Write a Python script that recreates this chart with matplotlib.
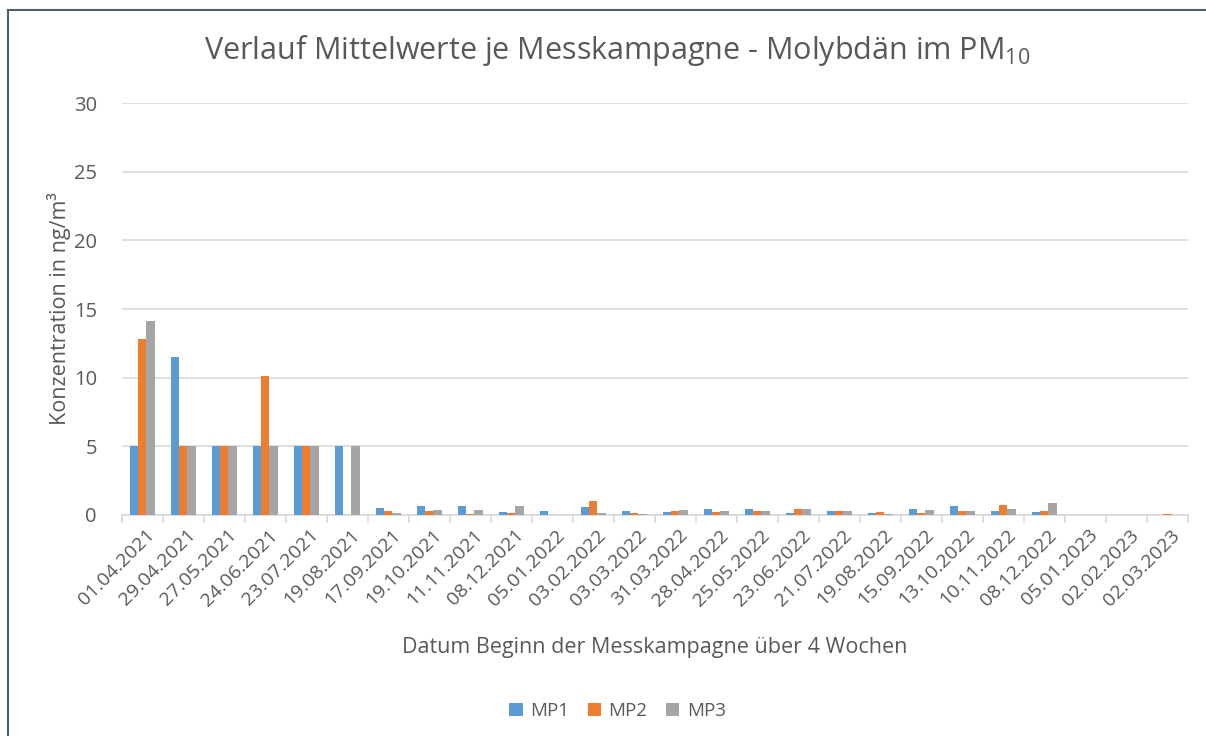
import numpy as np
import matplotlib
matplotlib.use('Agg')
import matplotlib.pyplot as plt
from matplotlib.lines import Line2D

plt.rcParams['font.family'] = ['Open Sans', 'DejaVu Sans']

# ── Data ───────────────────────────────────────────────────────────────────────
dates = ['01.04.2021', '29.04.2021', '27.05.2021', '24.06.2021', '23.07.2021',
         '19.08.2021', '17.09.2021', '19.10.2021', '11.11.2021', '08.12.2021',
         '05.01.2022', '03.02.2022', '03.03.2022', '31.03.2022', '28.04.2022',
         '25.05.2022', '23.06.2022', '21.07.2022', '19.08.2022', '15.09.2022',
         '13.10.2022', '10.11.2022', '08.12.2022', '05.01.2023', '02.02.2023',
         '02.03.2023']

mp1 = [5, 11.5, 5, 5, 5, 5, 0.5, 0.66, 0.66, 0.22, 0.32, 0.6, 0.32, 0.22,
       0.44, 0.44, 0.15, 0.29, 0.15, 0.41, 0.63, 0.29, 0.22, 0, 0, 0]
mp2 = [12.8, 5, 5, 10.1, 5, 0, 0.3, 0.29, 0.07, 0.12, 0, 1.02, 0.17, 0.29,
       0.22, 0.29, 0.44, 0.29, 0.24, 0.15, 0.27, 0.73, 0.29, 0, 0, 0.05]
mp3 = [14.1, 5, 5, 5, 5, 5, 0.12, 0.36, 0.36, 0.66, 0, 0.12, 0.07, 0.36,
       0.29, 0.29, 0.41, 0.27, 0.07, 0.36, 0.29, 0.44, 0.85, 0, 0, 0]

series = [('MP1', mp1, '#5B9BD5'), ('MP2', mp2, '#ED7D31'), ('MP3', mp3, '#A5A5A5')]

TXT = '#595959'

# ── Figure ─────────────────────────────────────────────────────────────────────
fig = plt.figure(figsize=(12.06, 7.36), dpi=100)
ax = fig.add_axes([0.101, 0.3003, 0.884, 0.5597])

x = np.arange(len(dates))
w = 0.2
for i, (name, vals, col) in enumerate(series):
    ax.bar(x + (i - 1) * w, vals, width=w, color=col, label=name, zorder=3)

ax.set_xlim(-0.5, len(dates) - 0.5)
ax.set_ylim(0, 30)
ax.set_yticks(range(0, 31, 5))
ax.yaxis.grid(True, color='#D9D9D9', linewidth=1.2, zorder=0)
ax.tick_params(axis='y', length=0, labelsize=14.5, labelcolor=TXT, pad=18)

ax.set_xticks(x + 0.08)
ax.set_xticklabels(dates, rotation=45, ha='right', rotation_mode='anchor',
                   fontsize=14, color=TXT)
ax.tick_params(axis='x', length=0, pad=8)
# category boundary tick marks
ax.set_xticks(np.arange(len(dates) + 1) - 0.5, minor=True)
ax.tick_params(axis='x', which='minor', length=6, color='#D9D9D9', width=1.2)

for side in ['top', 'right', 'left']:
    ax.spines[side].set_visible(False)
ax.spines['bottom'].set_color('#D9D9D9')
ax.spines['bottom'].set_linewidth(1.2)

ax.set_ylabel('Konzentration in ng/m³', fontsize=15.5, color=TXT, labelpad=2)
ax.set_xlabel('Datum Beginn der Messkampagne über 4 Wochen', fontsize=15.5,
              color=TXT, labelpad=20)

fig.text(0.512, 0.932, r'Verlauf Mittelwerte je Messkampagne - Molybdän im PM$\mathregular{_{10}}$',
         ha='center', va='center', fontsize=22, color=TXT)

leg = fig.legend(loc='center', bbox_to_anchor=(0.512, 0.034), ncol=3, frameon=False,
                 fontsize=13.5, handlelength=0.7, handleheight=0.7, columnspacing=1.0,
                 handletextpad=0.4)
for t in leg.get_texts():
    t.set_color(TXT)

# chart border (only top and left edges visible in the crop)
fig.add_artist(Line2D([0.0066, 1.0], [1 - 9.5 / 736, 1 - 9.5 / 736],
                      transform=fig.transFigure, color='#4E5F70', linewidth=1.5))
fig.add_artist(Line2D([7.5 / 1206, 7.5 / 1206], [0.0, 1 - 9.5 / 736],
                      transform=fig.transFigure, color='#4E5F70', linewidth=1.5))

fig.savefig('out.png', dpi=100)
